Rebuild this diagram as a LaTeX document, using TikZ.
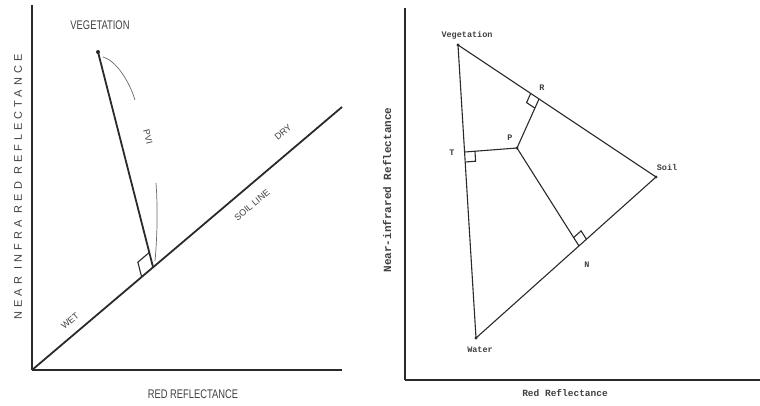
\documentclass[tikz,border=0pt]{standalone}
\usepackage{fontspec}
\usetikzlibrary{calc}
\newfontfamily\capsfont[FakeStretch=0.75]{Liberation Sans}
\newfontfamily\plainfont{Liberation Sans}
\newfontfamily\ylabfont[LetterSpace=37]{Liberation Sans}
\newfontfamily\monofont{Liberation Mono}
\definecolor{ink}{HTML}{2A2A2A}
\definecolor{txt}{HTML}{404040}
\newcommand\rAngle[4]{%
  \coordinate (#1-a) at ($(#1)!#4!(#2)$);
  \coordinate (#1-b) at ($(#1)!#4!(#3)$);
  \coordinate (#1-c) at ($(#1-a)+(#1-b)-(#1)$);
  \draw[marker] (#1-a) -- (#1-c) -- (#1-b);}
\begin{document}
\begin{tikzpicture}[x=1pt,y=-1pt,
  axisL/.style={draw=ink,line width=1.6pt},
  axisB/.style={draw=ink,line width=2.8pt},
  mainL/.style={draw=ink,line width=1.8pt},
  thinL/.style={draw=ink!70,line width=0.7pt},
  marker/.style={draw=ink,line width=1.1pt},
  triL/.style={draw=ink,line width=1.1pt},
  capslab/.style={text=txt,inner sep=0pt,font=\capsfont\fontsize{12.5}{14}\selectfont},
  smallcaps/.style={text=txt,inner sep=0pt,font=\plainfont\fontsize{9}{11}\selectfont},
  monolab/.style={text=txt,inner sep=0pt,font=\monofont\bfseries\fontsize{8.5}{10}\selectfont},
  dot/.style={fill=ink}]
\useasboundingbox (0,0) rectangle (760,406);
% ---------- left panel ----------
\coordinate (O) at (32,370);
\coordinate (Ytop) at (32,5);
\coordinate (Xend) at (342,370);
\coordinate (Send) at (342,107);
\coordinate (V) at (98,52);
\coordinate (F) at (153,267);
\coordinate (arcA) at (103,57);
\coordinate (arcB) at (135,100);
\coordinate (tlA) at (156,183);
\coordinate (tlB) at (155,261);
\draw[axisL] (O) -- (Ytop);
\draw[axisB] (O) -- (Xend);
\draw[mainL] (O) -- (Send);
\draw[mainL] (V) -- (F);
\fill[dot] (V) circle (2);
\rAngle{F}{V}{O}{15pt}
\draw[thinL] (arcA) .. controls (115,60) and (129,80) .. (arcB);
\draw[thinL] (tlA) .. controls (158,210) and (157,240) .. (tlB);
\node[capslab] (vegL) at (100,25) {VEGETATION};
\node[capslab] (redL) at (193,394) {RED REFLECTANCE};
\node[text=txt,inner sep=0pt,rotate=90,font=\ylabfont\fontsize{11}{13}\selectfont] (nirL) at (18,187) {NEAR INFRA RED REFLECTANCE};
\node[smallcaps,rotate=40] (wet) at (70,321) {WET};
\node[smallcaps,rotate=40] (soilline) at (252,205) {SOIL LINE};
\node[smallcaps,rotate=40] (dry) at (283,132) {DRY};
\node[smallcaps,rotate=-75] (pvi) at (148,137) {PVI};
% ---------- right panel ----------
\coordinate (O2) at (405,380);
\coordinate (Y2) at (405,8);
\coordinate (X2) at (760,380);
\coordinate (V2) at (458,45);
\coordinate (W2) at (476,338);
\coordinate (S2) at (656,177);
\coordinate (P2) at (517,148);
\coordinate (R) at (539,99);
\coordinate (T) at (465,152);
\coordinate (N) at (579,246);
\draw[triL] (O2) -- (Y2);
\draw[triL] (O2) -- (X2);
\draw[triL] (V2) -- (S2) -- (W2) -- cycle;
\draw[triL] (P2) -- (R);
\draw[triL] (P2) -- (T);
\draw[triL] (P2) -- (N);
\rAngle{R}{P2}{V2}{10pt}
\rAngle{T}{P2}{W2}{10pt}
\rAngle{N}{P2}{S2}{10pt}
\foreach \p in {V2,W2,S2,P2} \fill[dot] (\p) circle (1.6);
\node[monolab] (vegR) at (467,35) {Vegetation};
\node[monolab] (soilR) at (667,167) {Soil};
\node[monolab] (waterR) at (480,350) {Water};
\node[monolab] (rl) at (542,88) {R};
\node[monolab] (pl) at (510,138) {P};
\node[monolab] (tl) at (452,153) {T};
\node[monolab] (nl) at (587,265) {N};
\node[text=txt,inner sep=0pt,rotate=90,font=\monofont\bfseries\fontsize{11}{13}\selectfont] (nirR) at (387,190) {Near-infrared Reflectance};
\node[text=txt,inner sep=0pt,font=\monofont\bfseries\fontsize{9.5}{11}\selectfont] (redR) at (565,393) {Red Reflectance};
\end{tikzpicture}
\end{document}
